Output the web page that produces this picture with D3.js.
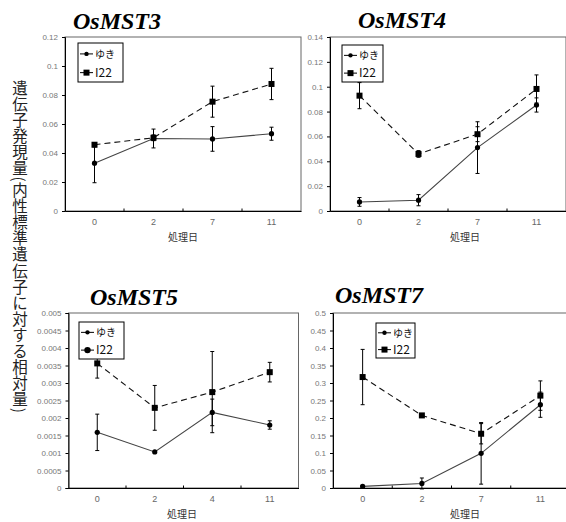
<!DOCTYPE html>
<html>
<head>
<meta charset="utf-8">
<script src="https://cdn.jsdelivr.net/npm/d3@7"></script>
<style>
  body { margin: 0; background: #fff; }
  svg { display: block; font-family: "Liberation Sans", Arial, sans-serif; }
</style>
</head>
<body>
<svg id="chart" width="566" height="522"></svg>
<script>
// categories (treatment days)
const days3 = ["0", "2", "7", "11"]
const days4 = ["0", "2", "7", "11"]
const days5 = ["0", "2", "4", "11"]
const days7 = ["0", "2", "7", "11"]

// OsMST3
const mst3Yuki = [0.033, 0.050, 0.0497, 0.0533]
const mst3YukiErr = [0.0135, 0.0065, 0.0085, 0.0045]
const mst3I22 = [0.0457, 0.0505, 0.0754, 0.0876]
const mst3I22Err = [0.0015, 0.002, 0.0107, 0.0108]
const mst3Ticks = [0, 0.02, 0.04, 0.06, 0.08, 0.1, 0.12]

// OsMST4
const mst4Yuki = [0.0073, 0.0087, 0.051, 0.0853]
const mst4YukiErr = [0.0035, 0.0045, 0.0208, 0.0057]
const mst4I22 = [0.0928, 0.0459, 0.0618, 0.0982]
const mst4I22Err = [0.0105, 0.0027, 0.006, 0.0113]
const mst4Ticks = [0, 0.02, 0.04, 0.06, 0.08, 0.1, 0.12, 0.14]

// OsMST5
const mst5Yuki = [0.00159, 0.00103, 0.00216, 0.0018]
const mst5YukiErr = [0.00052, 0, 0.00038, 0.00012]
const mst5I22 = [0.00356, 0.00229, 0.00274, 0.00331]
const mst5I22Err = [0.00042, 0.00064, 0.00116, 0.00028]
const mst5Ticks = [0, 0.0005, 0.001, 0.0015, 0.002, 0.0025, 0.003, 0.0035, 0.004, 0.0045, 0.005]

// OsMST7
const mst7Yuki = [0.0047, 0.013, 0.099, 0.238]
const mst7YukiErr = [0.003, 0.0156, 0.088, 0.036]
const mst7I22 = [0.317, 0.2074, 0.155, 0.264]
const mst7I22Err = [0.079, 0.003, 0.029, 0.042]
const mst7Ticks = [0, 0.05, 0.1, 0.15, 0.2, 0.25, 0.3, 0.35, 0.4, 0.45, 0.5]

const seriesNames = ["ゆき", "I22"]
const xTitle = "処理日"
const yTitle = "遺伝子発現量(内性標準遺伝子に対する相対量)"

const svg = d3.select("#chart")

//y axis title, vertical japanese text
svg.append("text")
  .attr("x", 20)
  .attr("y", 80)
  .style("writing-mode", "vertical-rl")
  .style("font-family", "'Noto Sans CJK JP', sans-serif")
  .style("font-size", "15.5px")
  .style("letter-spacing", "0.6px")
  .attr("fill", "#222")
  .text(yTitle)

const panels = [
  {name: "OsMST3", days: days3, yuki: mst3Yuki, yukiErr: mst3YukiErr, i22: mst3I22, i22Err: mst3I22Err, ticks: mst3Ticks,
   left: 65, top: 37, w: 236, h: 174, titleX: 73, titleY: 29, xTitleX: 183, legend: {x: 78, y: 43, w: 45, h: 39}},
  {name: "OsMST4", days: days4, yuki: mst4Yuki, yukiErr: mst4YukiErr, i22: mst4I22, i22Err: mst4I22Err, ticks: mst4Ticks,
   left: 330, top: 37, w: 236, h: 174, titleX: 358, titleY: 28, xTitleX: 465, legend: {x: 342, y: 45, w: 41, h: 37}},
  {name: "OsMST5", days: days5, yuki: mst5Yuki, yukiErr: mst5YukiErr, i22: mst5I22, i22Err: mst5I22Err, ticks: mst5Ticks,
   left: 68.5, top: 313, w: 230, h: 175, titleX: 90, titleY: 305, xTitleX: 182, legend: {x: 79, y: 322, w: 45, h: 37}, roundLegend: true},
  {name: "OsMST7", days: days7, yuki: mst7Yuki, yukiErr: mst7YukiErr, i22: mst7I22, i22Err: mst7I22Err, ticks: mst7Ticks,
   left: 333, top: 313, w: 237, h: 175, titleX: 335, titleY: 303, xTitleX: 465, legend: {x: 376, y: 323, w: 39, h: 35}}
]

panels.forEach(drawPanel)

function drawPanel(p){
  const g = svg.append("g")

  //title
  g.append("text")
    .attr("x", p.titleX)
    .attr("y", p.titleY)
    .style("font-family", "'Liberation Serif', 'Times New Roman', serif")
    .style("font-weight", "bold")
    .style("font-style", "italic")
    .style("font-size", "24px")
    .attr("fill", "#000")
    .text(p.name)

  const x = d3.scaleBand().domain(p.days).range([p.left, p.left + p.w])
  const y = d3.scaleLinear().domain([0, d3.max(p.ticks)]).range([p.top + p.h, p.top])
  const cx = d => x(d) + x.bandwidth() / 2

  //plot frame
  g.append("rect")
    .attr("x", p.left).attr("y", p.top)
    .attr("width", p.w).attr("height", p.h)
    .attr("fill", "none")
    .attr("stroke", "#666")
    .attr("stroke-width", 1)

  //y axis
  const yAxis = g.append("g")
    .attr("transform", `translate(${p.left},0)`)
    .call(d3.axisLeft(y).tickValues(p.ticks).tickSize(3).tickFormat(d => String(+d.toFixed(4))))
  yAxis.select(".domain").attr("stroke", "#000")
  yAxis.selectAll("text").attr("fill", "#777").style("font-size", "8px").attr("x", -7)

  //x axis: labels at category centers, small ticks at category boundaries
  const xAxis = g.append("g")
    .attr("transform", `translate(0,${p.top + p.h})`)
    .call(d3.axisBottom(x).tickSize(0).tickPadding(8))
  xAxis.select(".domain").attr("stroke", "#000")
  xAxis.selectAll("text").attr("fill", "#666").style("font-size", "9px")
  g.selectAll(".xtick")
    .data(p.days.slice(1))
    .join("line")
    .attr("x1", d => x(d)).attr("x2", d => x(d))
    .attr("y1", p.top + p.h).attr("y2", p.top + p.h - 2.5)
    .attr("stroke", "#000")

  g.append("text")
    .attr("x", p.xTitleX)
    .attr("y", p.top + p.h + 30)
    .attr("text-anchor", "middle")
    .style("font-family", "'Noto Sans CJK JP', sans-serif")
    .style("font-size", "10px")
    .attr("fill", "#333")
    .text(xTitle)

  const series = [
    {vals: p.yuki, err: p.yukiErr, dash: null, color: "#444", shape: "circle"},
    {vals: p.i22, err: p.i22Err, dash: "6,4", color: "#111", shape: "square"}
  ]

  series.forEach(function(s){
    const pts = s.vals.map((v, i) => ({day: p.days[i], v: v, e: s.err[i]}))

    g.append("path")
      .datum(pts)
      .attr("fill", "none")
      .attr("stroke", s.color)
      .attr("stroke-width", 1.1)
      .attr("stroke-dasharray", s.dash)
      .attr("d", d3.line().x(d => cx(d.day)).y(d => y(d.v)))

    //error bars
    const eb = g.append("g").selectAll("g").data(pts.filter(d => d.e > 0)).join("g")
    eb.append("line")
      .attr("x1", d => cx(d.day)).attr("x2", d => cx(d.day))
      .attr("y1", d => y(d.v - d.e)).attr("y2", d => y(d.v + d.e))
      .attr("stroke", "#000")
    eb.selectAll(".cap").data(d => [d.v - d.e, d.v + d.e].map(val => ({day: d.day, val: val})))
      .join("line")
      .attr("x1", d => cx(d.day) - 2).attr("x2", d => cx(d.day) + 2)
      .attr("y1", d => y(d.val)).attr("y2", d => y(d.val))
      .attr("stroke", "#000")

    //markers
    if (s.shape === "circle"){
      g.append("g").selectAll("circle").data(pts).join("circle")
        .attr("cx", d => cx(d.day)).attr("cy", d => y(d.v)).attr("r", 2.6)
        .attr("fill", "#000")
    } else {
      g.append("g").selectAll("rect").data(pts).join("rect")
        .attr("x", d => cx(d.day) - 3).attr("y", d => y(d.v) - 3)
        .attr("width", 6).attr("height", 6)
        .attr("fill", "#000")
    }
  })

  //legend
  const L = p.legend
  g.append("rect")
    .attr("x", L.x).attr("y", L.y).attr("width", L.w).attr("height", L.h)
    .attr("fill", "#fff").attr("stroke", "#000").attr("stroke-width", 1)
  seriesNames.forEach(function(name, i){
    const ly = L.y + L.h * (i === 0 ? 0.28 : 0.76)
    g.append("line")
      .attr("x1", L.x + 2).attr("x2", L.x + 15)
      .attr("y1", ly).attr("y2", ly)
      .attr("stroke", "#000")
    if (i === 0 || p.roundLegend){
      g.append("circle").attr("cx", L.x + 8.5).attr("cy", ly).attr("r", i === 0 ? 2.2 : 3.2).attr("fill", "#000")
    } else {
      g.append("rect").attr("x", L.x + 5.5).attr("y", ly - 3).attr("width", 6).attr("height", 6).attr("fill", "#000")
    }
    g.append("text")
      .attr("x", L.x + 17)
      .attr("y", ly + 4)
      .style("font-family", "'Noto Sans CJK JP', sans-serif")
      .style("font-size", i === 0 ? "10px" : "12px")
      .attr("fill", "#111")
      .text(name)
  })
}
</script>
</body>
</html>
